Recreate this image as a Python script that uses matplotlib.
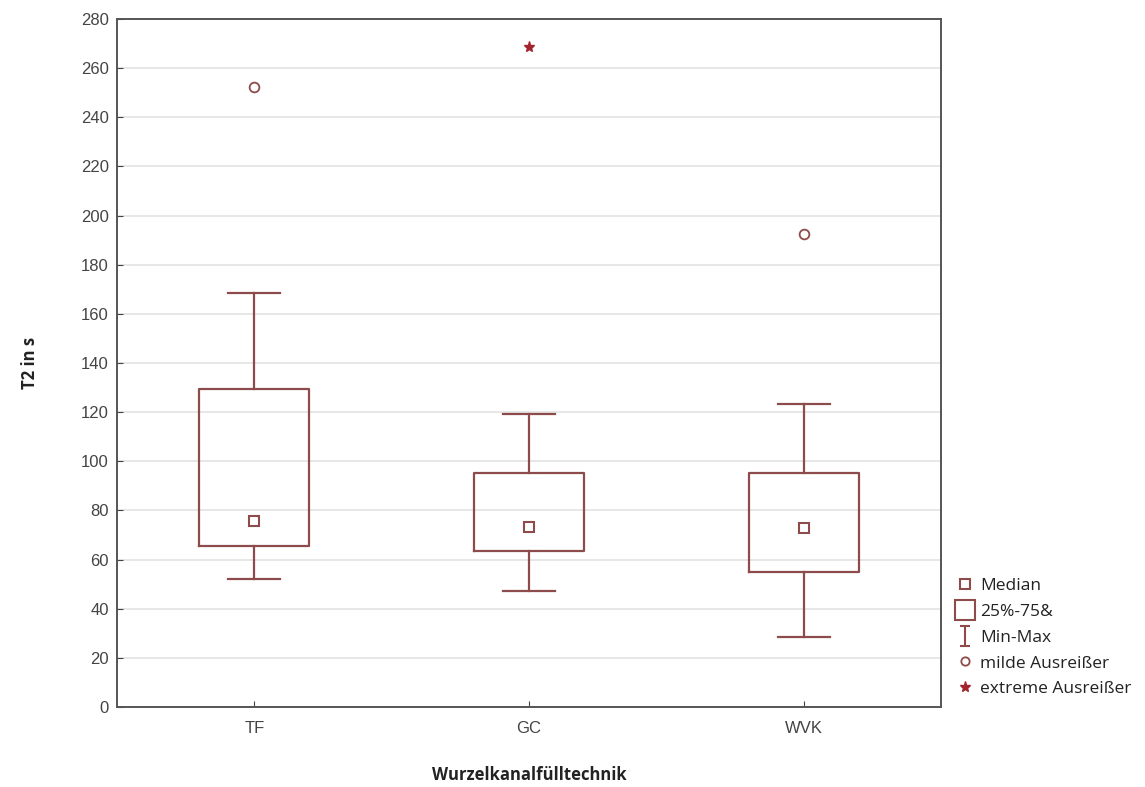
import matplotlib
matplotlib.use("Agg")
import matplotlib.pyplot as plt
from matplotlib.lines import Line2D
from matplotlib.path import Path

categories = ["TF", "GC", "WVK"]
medians = [75.7, 73.3, 72.9]
q1 = [65.5, 63.5, 54.9]
q3 = [129.4, 95.2, 95.2]
mins = [52.1, 47.2, 28.5]
maxs = [168.5, 119.3, 123.3]
mild_outliers = [[252.3], [], [192.5]]
extreme_outliers = [[], [268.6], []]
yticks = list(range(0, 281, 20))

col = "#8e4b4b"
ext_col = "#a3232e"

fig = plt.figure(figsize=(11.45, 7.87), dpi=100)
ax = fig.add_axes([0.1022, 0.1017, 0.7196, 0.8742])

pos = list(range(len(categories)))
stats = []
for i, c in enumerate(categories):
    stats.append(dict(label=c, med=medians[i], q1=q1[i], q3=q3[i],
                      whislo=mins[i], whishi=maxs[i], fliers=[]))
ax.bxp(stats, positions=pos, widths=0.4, showfliers=False,
       boxprops=dict(color=col, linewidth=1.6),
       whiskerprops=dict(color=col, linewidth=1.6),
       capprops=dict(color=col, linewidth=1.6),
       medianprops=dict(linestyle="none"),
       capwidths=0.19, zorder=3)
ax.plot(pos, medians, linestyle="none", marker="s", markersize=7,
        markerfacecolor="white", markeredgecolor=col, markeredgewidth=1.5, zorder=4)
for i in pos:
    for v in mild_outliers[i]:
        ax.plot(i, v, linestyle="none", marker="o", markersize=7,
                markerfacecolor="white", markeredgecolor=col, markeredgewidth=1.3, zorder=4)
    for v in extreme_outliers[i]:
        ax.plot(i, v, linestyle="none", marker="*", markersize=8,
                color=ext_col, zorder=4)

ax.set_xlim(-0.5, 2.5)
ax.set_ylim(0, 280)
ax.set_yticks(yticks)
ax.set_xticks(pos)
ax.set_xticklabels(categories)
ax.yaxis.grid(True, color="#e3e3e3", linewidth=1.2, zorder=0)
ax.set_axisbelow(True)
ax.tick_params(direction="in", length=4, colors="#444444", labelsize=12,
               labelcolor="#444444")
ax.tick_params(axis="y", pad=6)
ax.tick_params(axis="x", pad=10)
for s in ax.spines.values():
    s.set_color("#555555")
    s.set_linewidth(1.4)
for lbl in ax.get_xticklabels() + ax.get_yticklabels():
    lbl.set_fontfamily("Liberation Sans")

ax.set_ylabel("T2 in s", fontsize=12, fontweight="bold", color="#222222",
              fontfamily="Open Sans", labelpad=30)
ax.set_xlabel("Wurzelkanalfülltechnik", fontsize=12, fontweight="bold",
              color="#222222", fontfamily="Open Sans", labelpad=22)

minmax = Path([(-0.5, 1), (0.5, 1), (0, 1), (0, -1), (-0.5, -1), (0.5, -1)],
              [Path.MOVETO, Path.LINETO, Path.MOVETO, Path.LINETO,
               Path.MOVETO, Path.LINETO])
handles = [
    Line2D([], [], linestyle="none", marker="s", markersize=7,
           markerfacecolor="white", markeredgecolor=col, markeredgewidth=1.5),
    Line2D([], [], linestyle="none", marker="s", markersize=14,
           markerfacecolor="white", markeredgecolor=col, markeredgewidth=1.5),
    Line2D([], [], linestyle="none", marker=minmax, markersize=14,
           markerfacecolor="none", markeredgecolor=col, markeredgewidth=1.5),
    Line2D([], [], linestyle="none", marker="o", markersize=6,
           markerfacecolor="white", markeredgecolor=col, markeredgewidth=1.3),
    Line2D([], [], linestyle="none", marker="*", markersize=8, color=ext_col),
]
labels = ["Median", "25%-75&", "Min-Max", "milde Ausreißer", "extreme Ausreißer"]
fig.legend(handles, labels, loc="upper left", bbox_to_anchor=(0.826, 0.274),
           frameon=False, prop=dict(family="Open Sans", size=12.5),
           handletextpad=0.2, labelspacing=0.55, handlelength=1.4,
           borderaxespad=0, labelcolor="#222222")

fig.savefig("out.png", dpi=100, facecolor="white")
